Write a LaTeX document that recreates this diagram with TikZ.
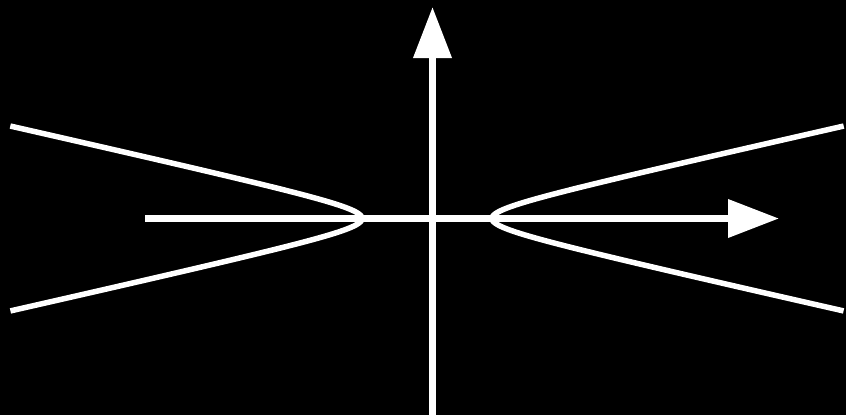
\documentclass[tikz,border=0pt]{standalone}
\usetikzlibrary{arrows.meta}
\begin{document}
\begin{tikzpicture}[x=1pt,y=-1pt,
  axis/.style={white,line width=7pt,-{Triangle[width=37pt,length=51pt]}},
  curve/.style={white,line width=5.5pt,line join=round}]
\fill[black] (0,0) rectangle (846,415);
\useasboundingbox (0,0) rectangle (846,415);
\coordinate (xs) at (145,218.5);
\coordinate (xe) at (779,218.5);
\coordinate (ys) at (432.5,415);
\coordinate (ye) at (432.5,7);
\draw[curve] plot[domain=-2.545:2.545,samples=120,smooth] ({427-65*cosh(\x)},{218.5+14.6*sinh(\x)});
\draw[curve] plot[domain=-2.545:2.545,samples=120,smooth] ({427+65*cosh(\x)},{218.5+14.6*sinh(\x)});
\draw[axis] (xs) -- (xe);
\draw[axis] (ys) -- (ye);
\end{tikzpicture}
\end{document}
